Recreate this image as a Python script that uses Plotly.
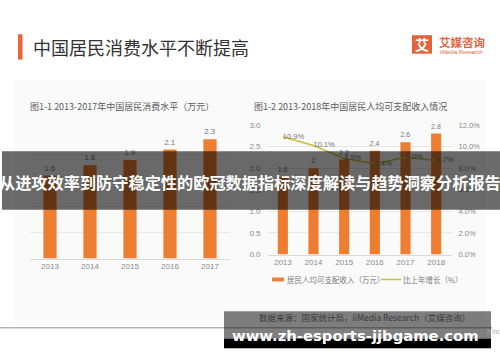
import plotly.graph_objects as go

# ---------------- data ----------------
years_1 = ["2013", "2014", "2015", "2016", "2017"]
consumption = [1.6, 1.8, 1.9, 2.1, 2.3]            # 万元

years_2 = ["2013", "2014", "2015", "2016", "2017", "2018"]
income = [1.8, 2.0, 2.2, 2.4, 2.6, 2.8]             # 万元
growth = [0.109, 0.101, 0.089, 0.084, 0.090, 0.087]  # 比上年增长

main_title = "中国居民消费水平不断提高"
chart1_title = "图1-1 2013-2017年中国居民消费水平（万元）"
chart2_title = "图1-2 2013-2018年中国居民人均可支配收入情况"
legend_bar = "居民人均可支配收入（万元）"
legend_line = "比上年增长（%）"
source_text = "数据来源：国家统计局，iiMedia Research（艾媒咨询）"
banner_text = "从进攻效率到防守稳定性的欧冠数据指标深度解读与趋势洞察分析报告"
watermark = "www.zh-esports-jjbgame.com"

W, H = 500, 362
def X(px): return px / W
def Y(py): return 1 - py / H

CJK = "Noto Sans CJK SC, Noto Sans, sans-serif"
NUM = "Liberation Sans, Arial, sans-serif"
ORANGE = "#ED7D31"
GOLD = "#cdbd3a"
BRAND = "#e2643d"

fig = go.Figure()

fig.add_trace(go.Bar(
    x=years_1, y=consumption, xaxis="x", yaxis="y",
    marker=dict(color=ORANGE, line=dict(width=0)),
    text=[f"{v:g}" for v in consumption], textposition="outside",
    textfont=dict(size=8, color="#777", family=NUM), cliponaxis=False,
    showlegend=False, hoverinfo="skip",
))

fig.add_trace(go.Bar(
    x=years_2, y=income, xaxis="x2", yaxis="y2",
    marker=dict(color=ORANGE, line=dict(width=0)),
    text=[f"{v:g}" for v in income], textposition="outside",
    textfont=dict(size=8, color="#777", family=NUM), cliponaxis=False,
    showlegend=False, hoverinfo="skip",
))

fig.add_trace(go.Scatter(
    x=years_2, y=growth, xaxis="x2", yaxis="y3", mode="lines+text",
    line=dict(color=GOLD, width=1.5),
    text=[f"{v*100:.1f}%" for v in growth], textposition="middle right",
    textfont=dict(size=7.5, color="#777", family=NUM), cliponaxis=False,
    showlegend=False, hoverinfo="skip",
))

tickfont = dict(size=8, color="#8a8a8a", family=NUM)

fig.update_layout(
    width=W, height=H, margin=dict(l=0, r=0, t=0, b=0),
    paper_bgcolor="white", plot_bgcolor="rgba(0,0,0,0)",
    bargap=0.67, showlegend=False,
    xaxis=dict(domain=[X(30), X(230)], anchor="y", showgrid=False,
               showline=True, linecolor="#d9d9d9", linewidth=1,
               ticks="", tickfont=tickfont, fixedrange=True),
    yaxis=dict(domain=[Y(261), Y(128)], anchor="x", range=[0, 2.5], dtick=0.5,
               showticklabels=False, gridcolor="#e8e8e8", gridwidth=1,
               zeroline=False, fixedrange=True),
    xaxis2=dict(domain=[X(267.5), X(451.5)], anchor="y2", showgrid=False,
                showline=True, linecolor="#d9d9d9", linewidth=1,
                ticks="", tickfont=tickfont, fixedrange=True),
    yaxis2=dict(domain=[Y(257), Y(124)], anchor="x2", range=[0, 3], dtick=0.5,
                tickformat=".1f", tickfont=tickfont, gridcolor="#e8e8e8",
                zeroline=False, ticks="", ticklabelstandoff=6, fixedrange=True),
    yaxis3=dict(overlaying="y2", anchor="x2", side="right", range=[0, 0.12],
                dtick=0.02, tickformat=".1%", tickfont=dict(size=7.5, color="#8a8a8a", family=NUM),
                showgrid=False, zeroline=False, ticks="", ticklabelstandoff=6,
                fixedrange=True),
)

shapes = [
    # faint content panel
    dict(type="rect", xref="paper", yref="paper", x0=X(15), x1=X(485), y0=Y(330), y1=Y(78),
         fillcolor="#fafafa", line=dict(width=0), layer="below"),
    # title accent bar
    dict(type="rect", xref="paper", yref="paper", x0=X(18), x1=X(22.5), y0=Y(57), y1=Y(31),
         fillcolor="#e8673a", line=dict(width=0)),
    # logo square
    dict(type="rect", xref="paper", yref="paper", x0=X(412), x1=X(432), y0=Y(51), y1=Y(32),
         fillcolor=BRAND, line=dict(width=0)),
    # custom legend swatches
    dict(type="rect", xref="paper", yref="paper", x0=X(272), x1=X(284), y0=Y(284.5), y1=Y(280.5),
         fillcolor=ORANGE, line=dict(width=0)),
    dict(type="line", xref="paper", yref="paper", x0=X(381), x1=X(401), y0=Y(282.5), y1=Y(282.5),
         line=dict(color=GOLD, width=1.5)),
    # bottom divider line
    dict(type="line", xref="paper", yref="paper", x0=0, x1=X(492), y0=Y(332), y1=Y(332),
         line=dict(color="#b5b5b5", width=1.5)),
    # overlay banner
    dict(type="rect", xref="paper", yref="paper", x0=X(2), x1=X(500), y0=Y(211), y1=Y(151),
         fillcolor="rgba(0,0,0,0.58)", line=dict(width=0), layer="above"),
    # watermark box
    dict(type="rect", xref="paper", yref="paper", x0=X(224), x1=X(491), y0=Y(343), y1=Y(315),
         fillcolor="rgba(0,0,0,0.5)", line=dict(width=0), layer="above"),
    dict(type="rect", xref="paper", yref="paper", x0=X(224), x1=X(491), y0=Y(353), y1=Y(343),
         fillcolor="black", line=dict(width=0), layer="above"),
]
fig.update_layout(shapes=shapes)

def ann(text, x, y, size, color, family=CJK, xanchor="left", weight="normal"):
    fig.add_annotation(text=text, x=X(x), y=Y(y), xref="paper", yref="paper",
                       xanchor=xanchor, yanchor="middle", showarrow=False,
                       font=dict(size=size, color=color, family=family, weight=weight))

ann(main_title, 31, 44, 18, "#333333")
ann("艾", 422, 41.5, 14, "white", xanchor="center", weight="bold")
ann("艾媒咨询", 437, 39, 11.5, BRAND, weight="bold")
ann("iiMedia Research", 437.5, 49, 5.5, BRAND, family=NUM)
ann(chart1_title, 28, 105, 9, "#5a5a5a")
ann(chart2_title, 252, 105, 9, "#5a5a5a")
ann(legend_bar, 285, 282.5, 7.5, "#7a7a7a")
ann(legend_line, 401, 282.5, 7.5, "#7a7a7a")
ann(source_text, 364, 321, 8.5, "#3a3a3a", xanchor="center")
ann("h Inc", 485, 336, 6, "#aaaaaa")
ann(banner_text, 250, 183, 16.2, "white", xanchor="center", weight="bold")
ann(watermark, 355.5, 339.5, 14.8, "white", family="DejaVu Sans, sans-serif",
    xanchor="center", weight="bold")

fig.write_html("out.html", config={"displayModeBar": False},
               post_script="document.body.style.margin='0';")
